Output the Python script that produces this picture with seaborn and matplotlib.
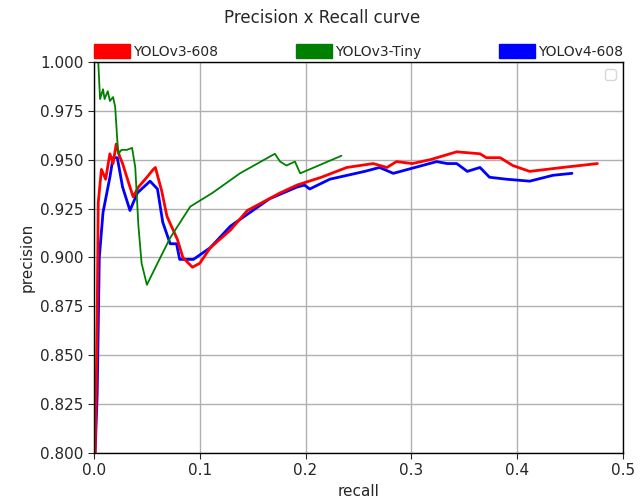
"""
Precision x Recall curve: YOLOv3-608 vs YOLOv3-Tiny vs YOLOv4-608
"""

import pandas as pd
import seaborn as sns
import matplotlib.pyplot as plt
from matplotlib.patches import Patch

# YOLOv3-608 (red)
v3_recall = [0.001, 0.002, 0.003, 0.004, 0.007, 0.011, 0.015, 0.018, 0.021, 0.024, 0.027,
             0.034, 0.037, 0.042, 0.050, 0.056, 0.058, 0.064, 0.069, 0.079, 0.084, 0.093,
             0.100, 0.110, 0.129, 0.145, 0.176, 0.192, 0.215, 0.239, 0.264, 0.277, 0.286,
             0.301, 0.318, 0.343, 0.365, 0.371, 0.384, 0.396, 0.412, 0.443, 0.476]
v3_precision = [0.800, 0.830, 0.870, 0.928, 0.945, 0.940, 0.953, 0.948, 0.958, 0.952, 0.948,
                0.936, 0.931, 0.936, 0.941, 0.945, 0.946, 0.934, 0.921, 0.909, 0.900, 0.895,
                0.897, 0.905, 0.914, 0.924, 0.933, 0.937, 0.941, 0.946, 0.948, 0.946, 0.949,
                0.948, 0.950, 0.954, 0.953, 0.951, 0.951, 0.947, 0.944, 0.946, 0.948]

# YOLOv3-Tiny (green)
tiny_recall = [0.001, 0.004, 0.0057, 0.0085, 0.010, 0.013, 0.015, 0.018, 0.020, 0.022,
               0.023, 0.026, 0.031, 0.036, 0.039, 0.042, 0.045, 0.050, 0.060, 0.072, 0.091,
               0.112, 0.138, 0.171, 0.176, 0.182, 0.190, 0.195, 0.234]
tiny_precision = [1.000, 1.000, 0.981, 0.986, 0.981, 0.985, 0.980, 0.982, 0.977, 0.960,
                  0.953, 0.955, 0.955, 0.956, 0.946, 0.916, 0.897, 0.886, 0.897, 0.910, 0.926,
                  0.933, 0.943, 0.953, 0.949, 0.947, 0.949, 0.943, 0.952]

# YOLOv4-608 (blue)
v4_recall = [0.001, 0.003, 0.005, 0.0085, 0.015, 0.018, 0.022, 0.027, 0.034, 0.041, 0.053,
             0.060, 0.065, 0.072, 0.078, 0.081, 0.094, 0.110, 0.129, 0.166, 0.192, 0.199,
             0.204, 0.223, 0.256, 0.270, 0.283, 0.324, 0.334, 0.343, 0.353, 0.365, 0.374,
             0.390, 0.412, 0.434, 0.452]
v4_precision = [0.800, 0.830, 0.900, 0.923, 0.941, 0.951, 0.951, 0.936, 0.924, 0.933, 0.939,
                0.935, 0.918, 0.907, 0.907, 0.899, 0.899, 0.905, 0.916, 0.930, 0.936, 0.937,
                0.935, 0.940, 0.944, 0.946, 0.943, 0.949, 0.948, 0.948, 0.944, 0.946, 0.941,
                0.940, 0.939, 0.942, 0.943]

series = [
    ("YOLOv3-608", v3_recall, v3_precision, "red", 2.0),
    ("YOLOv3-Tiny", tiny_recall, tiny_precision, "green", 1.3),
    ("YOLOv4-608", v4_recall, v4_precision, "blue", 2.0),
]


def plot_pr_curve():
    sns.set_style("whitegrid", {"axes.edgecolor": "black", "grid.color": "#b0b0b0"})
    plt.rcParams["font.family"] = ["DejaVu Sans"]

    fig = plt.figure(figsize=(6.44, 5.03), dpi=100)
    ax = fig.add_axes([0.146, 0.0994, 0.821, 0.7776])

    # blue drawn below red, tiny on top of both
    for name, rec, prec, color, lw in [series[2], series[0], series[1]]:
        df = pd.DataFrame({"recall": rec, "precision": prec})
        sns.lineplot(data=df, x="recall", y="precision", sort=False, estimator=None,
                     color=color, linewidth=lw, ax=ax)

    ax.set_xlim(0, 0.5)
    ax.set_ylim(0.8, 1.0)
    ax.set_xticks([0.0, 0.1, 0.2, 0.3, 0.4, 0.5])
    ax.set_yticks([0.800, 0.825, 0.850, 0.875, 0.900, 0.925, 0.950, 0.975, 1.000])
    ax.set_yticklabels([f"{v:.3f}" for v in ax.get_yticks()])
    ax.tick_params(axis="both", labelsize=11, length=4, left=True, bottom=True)
    ax.set_xlabel("recall", fontsize=11)
    ax.set_ylabel("precision", fontsize=11)
    ax.grid(True, linewidth=1.0)
    for s in ax.spines.values():
        s.set_linewidth(1.0)

    handles = [Patch(color=c, label=n) for n, _, _, c, _ in series]
    top = ax.legend(handles=handles, loc="lower left", bbox_to_anchor=(0, 1.008, 1.0, 0.1),
                    ncol=3, mode="expand", borderaxespad=0, borderpad=0, frameon=False,
                    fontsize=10, handlelength=2.6, handleheight=1.15, handletextpad=0.2)
    ax.add_artist(top)
    ax.legend(handles=[], loc="upper right")

    fig.suptitle("Precision x Recall curve", y=0.982, fontsize=12)
    fig.savefig("out.png", dpi=100)


if __name__ == "__main__":
    plot_pr_curve()
